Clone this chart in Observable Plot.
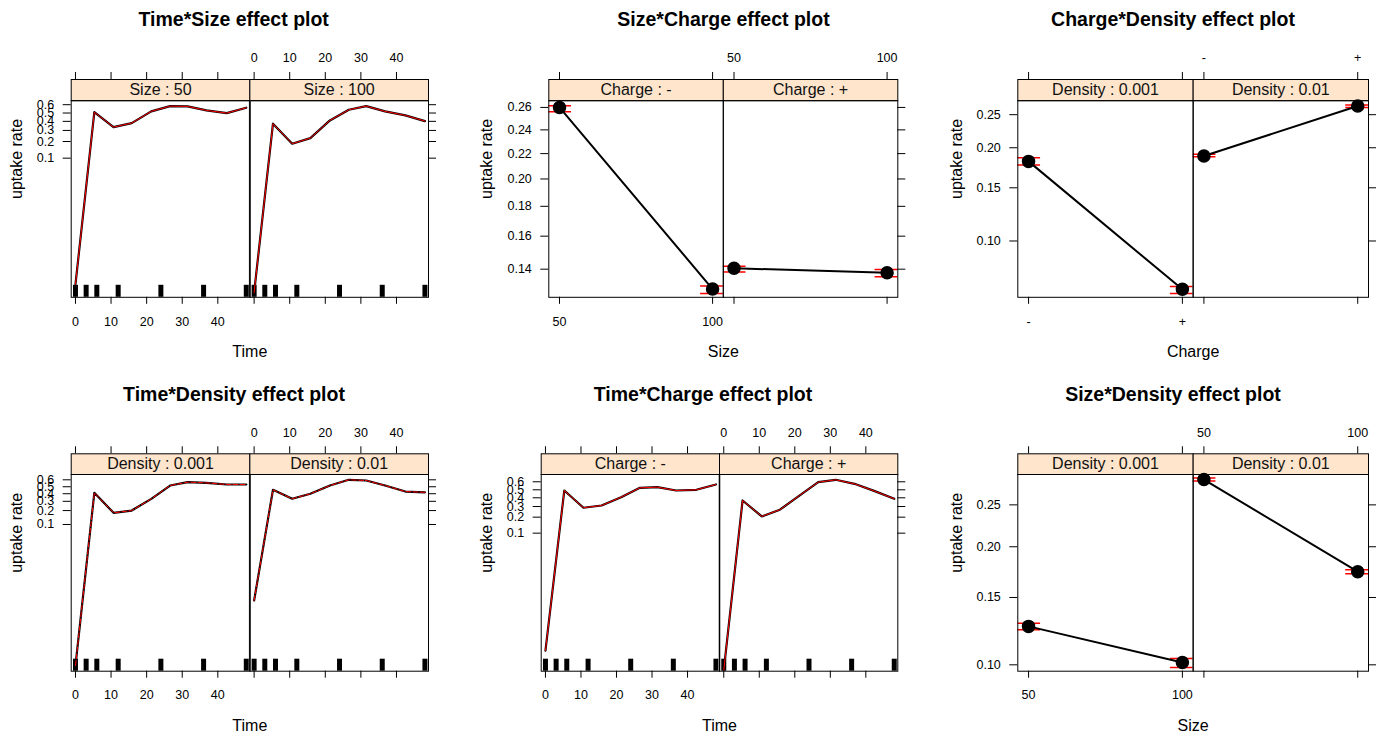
<!DOCTYPE html>
<html><head><meta charset="utf-8">
<script src="https://cdn.jsdelivr.net/npm/d3@7"></script>
<script src="https://cdn.jsdelivr.net/npm/@observablehq/plot@0.6"></script>
<style>
body{margin:0;background:#fff;font-family:"Liberation Sans",Arial,sans-serif;}
#wrap{position:relative;width:1386px;height:738px;overflow:hidden;background:#fff;}
.title{position:absolute;font-weight:bold;font-size:19.5px;white-space:nowrap;transform:translate(-50%,-50%);color:#000;line-height:1.15;}
.cell{position:absolute;}
</style></head><body><div id="wrap"></div>
<script>
// ---------- data ----------
const timePoints = [0, 5.3, 10.7, 15.8, 21.3, 26.6, 31.5, 36.8, 42.5, 48];
const rugTimes = [0, 3, 6, 12, 24, 36, 48];
const timeTicks = [0, 10, 20, 30, 40];
const timeTickLabels = ["0", "10", "20", "30", "40"];
const rateTicksTime = [0.1, 0.2, 0.3, 0.4, 0.5, 0.6];

const sizeFacets = ["Size : 50", "Size : 100"];
const timeSize50  = [0.00024, 0.511, 0.335, 0.380, 0.520, 0.583, 0.580, 0.532, 0.499, 0.564];
const timeSize100 = [0.00016, 0.373, 0.183, 0.228, 0.411, 0.540, 0.583, 0.520, 0.471, 0.403];

const densityFacets = ["Density : 0.001", "Density : 0.01"];
const timeDens001 = [0.00003, 0.413, 0.180, 0.200, 0.331, 0.518, 0.566, 0.557, 0.533, 0.533];
const timeDens01  = [0.00133, 0.456, 0.332, 0.399, 0.518, 0.600, 0.590, 0.518, 0.431, 0.420];

const chargeFacets = ["Charge : -", "Charge : +"];
const timeChargeMinus = [0.00029, 0.491, 0.287, 0.311, 0.408, 0.525, 0.533, 0.491, 0.500, 0.567];
const timeChargePlus  = [0.000106, 0.368, 0.206, 0.267, 0.428, 0.595, 0.624, 0.575, 0.483, 0.388];

const sizes = [50, 100];
const sizeTickLabels = ["50", "100"];
const chargeCodes = [1, 2];
const chargeLabels = ["-", "+"];

// Size*Charge
const scMinus   = [0.2600, 0.1290], scMinusLo = [0.2561, 0.1267], scMinusHi = [0.2615, 0.1307];
const scPlus    = [0.1405, 0.1380], scPlusLo  = [0.1384, 0.1357], scPlusHi  = [0.1417, 0.1398];
const rateTicksSC = [0.14, 0.16, 0.18, 0.20, 0.22, 0.24, 0.26];
// Charge*Density
const cd001 = [0.1817, 0.0680], cd001Lo = [0.1771, 0.0658], cd001Hi = [0.1863, 0.0696];
const cd01  = [0.1888, 0.2645], cd01Lo  = [0.1878, 0.2617], cd01Hi  = [0.1910, 0.2660];
const rateTicksCD = [0.10, 0.15, 0.20, 0.25];
// Size*Density
const sd001 = [0.1264, 0.1015], sd001Lo = [0.1239, 0.0984], sd001Hi = [0.1288, 0.1040];
const sd01  = [0.2840, 0.1740], sd01Lo  = [0.2820, 0.1720], sd01Hi  = [0.2860, 0.1760];
const rateTicksSD = [0.10, 0.15, 0.20, 0.25];

// ---------- helpers ----------
const logit = p => Math.log(p / (1 - p));
const FONT = '"Liberation Sans", Arial, sans-serif';
const wrap = document.getElementById("wrap");

function timeMarks(facets, series, spec) {
  const rows = facets.flatMap((f, k) => timePoints.map((t, i) => ({f, t, r: series[k][i]})));
  const rug = facets.flatMap(f => rugTimes.map(t => ({f, t})));
  const ih = spec.B - spec.T;
  return [
    Plot.ruleX(rug, {x: "t", fx: "f", insetTop: ih - 12, stroke: "black", strokeWidth: 5}),
    Plot.ruleX([{f: facets[1], x: spec.xDomain[0]}], {x: "x", fx: "f", stroke: "#777", strokeWidth: 2}),
    Plot.line(rows, {x: "t", y: d => logit(d.r), fx: "f", stroke: "black", strokeWidth: 2.2, clip: true}),
    Plot.line(rows, {x: "t", y: d => logit(d.r), fx: "f", stroke: "red", strokeWidth: 1, strokeDasharray: spec.dash || null, clip: true})
  ];
}

function pointMarks(facets, xs, vals, los, his) {
  const rows = facets.flatMap((f, k) => xs.map((x, i) => ({f, x, r: vals[k][i], lo: los[k][i], hi: his[k][i]})));
  return [
    Plot.ruleX(rows, {x: "x", y1: d => logit(d.lo), y2: d => logit(d.hi), fx: "f", stroke: "red", strokeWidth: 1.5}),
    Plot.ruleY(rows, {x1: "x", x2: "x", y: d => logit(d.lo), fx: "f", stroke: "red", strokeWidth: 1.5, insetLeft: -12, insetRight: -12, clip: true}),
    Plot.ruleY(rows, {x1: "x", x2: "x", y: d => logit(d.hi), fx: "f", stroke: "red", strokeWidth: 1.5, insetLeft: -12, insetRight: -12, clip: true}),
    Plot.line(rows, {x: "x", y: d => logit(d.r), fx: "f", stroke: "black", strokeWidth: 2}),
    Plot.dot(rows, {x: "x", y: d => logit(d.r), fx: "f", r: 6, fill: "black", stroke: "black"})
  ];
}

function effectPlot(spec) {
  const {region, L, R, T, B, stripH, facets, xDomain, yDomain, xTicks, xTickLabels, yTicks, yFmt} = spec;
  const mL = L - region.x, mR = region.x + region.w - R, mT = T - region.y, mB = region.y + region.h - B;
  const fw = (R - L) / 2, ih = B - T;
  const [fa, fb] = facets;
  const xt = xTicks.map((v, i) => ({v, lab: xTickLabels[i]}));
  const yt = yTicks.map(v => ({v}));
  const onBoth = arr => facets.flatMap(f => arr.map(d => ({...d, f})));
  const on = (arr, f) => arr.map(d => ({...d, f}));
  const marks = [
    Plot.frame({fill: "#ffe5cc", stroke: "black", insetTop: -stripH, insetBottom: ih}),
    Plot.text(facets.map(f => ({f})), {fx: "f", text: "f", frameAnchor: "top", dy: -stripH / 2, lineAnchor: "middle", fontSize: 16, fill: "#111"}),
    ...spec.dataMarks,
    Plot.frame({stroke: "black", strokeWidth: 1}),
    // x ticks
    Plot.ruleX(onBoth(xt), {x: "v", fx: "f", insetTop: ih, insetBottom: -7, stroke: "black"}),
    Plot.ruleX(onBoth(xt), {x: "v", fx: "f", insetTop: -(stripH + 7), insetBottom: ih + stripH, stroke: "black"}),
    Plot.text(on(xt, fa), {x: "v", fx: "f", text: "lab", frameAnchor: "bottom", dy: spec.botLabelY - B, lineAnchor: "middle", fontSize: 12.5}),
    Plot.text(on(xt, fb), {x: "v", fx: "f", text: "lab", frameAnchor: "top", dy: spec.topLabelY - T, lineAnchor: "middle", fontSize: 12.5}),
    // y ticks
    Plot.ruleY(on(yt, fa), {y: d => logit(d.v), fx: "f", insetLeft: -8, insetRight: fw, stroke: "black"}),
    Plot.ruleY(on(yt, fb), {y: d => logit(d.v), fx: "f", insetLeft: fw, insetRight: -8, stroke: "black"}),
    Plot.text(on(yt, fa), {y: d => logit(d.v), fx: "f", text: d => yFmt(d.v), frameAnchor: "left", dx: -17, textAnchor: "end", lineAnchor: "middle", fontSize: 12.5}),
    // axis titles
    Plot.text([{f: fa, t: spec.xLabel}], {fx: "f", text: "t", frameAnchor: "bottom", dx: fw / 2, dy: spec.xLabelY - B, lineAnchor: "middle", fontSize: 16}),
    Plot.text([{f: fa, t: "uptake rate"}], {fx: "f", text: "t", frameAnchor: "left", dx: spec.yLabelX - L, rotate: -90, lineAnchor: "middle", fontSize: 16})
  ];
  const svg = Plot.plot({
    width: region.w, height: region.h,
    marginLeft: mL, marginRight: mR, marginTop: mT, marginBottom: mB,
    style: {fontFamily: FONT, fontSize: "12.5px", background: "transparent", overflow: "visible", color: "black"},
    fx: {domain: facets, padding: 0, round: false, axis: null},
    x: {domain: xDomain, axis: null},
    y: {domain: yDomain, axis: null},
    marks
  });
  const cell = document.createElement("div");
  cell.className = "cell";
  cell.style.left = region.x + "px"; cell.style.top = region.y + "px";
  cell.appendChild(svg);
  wrap.appendChild(cell);
  const t = document.createElement("div");
  t.className = "title";
  t.textContent = spec.title;
  t.style.left = spec.titleX + "px"; t.style.top = spec.titleY + "px";
  wrap.appendChild(t);
}

const row1 = {T: 100.2, B: 296.8, stripH: 21.2, topLabelY: 58, botLabelY: 321, xLabelY: 351.7, titleY: 19.3};
const row2 = {T: 474, B: 670.7, stripH: 20.7, topLabelY: 432.3, botLabelY: 694.3, xLabelY: 725, titleY: 393.5};
const timeDomain = [-1.2, 49.0];
const sizeDomain = [46.5, 103.5];
const chargeDomain = [0.93, 2.07];
const f1 = v => v.toFixed(1), f2 = v => v.toFixed(2);

const specs = [
  {...row1, title: "Time*Size effect plot", titleX: 233.7, region: {x: 0, y: 36, w: 462, h: 334}, L: 70.7, R: 428, yLabelX: 16.3,
   facets: sizeFacets, xDomain: timeDomain, yDomain: [-8.97, 0.6], xTicks: timeTicks, xTickLabels: timeTickLabels, yTicks: rateTicksTime, yFmt: f1, xLabel: "Time",
   kind: "time", series: [timeSize50, timeSize100]},
  {...row1, title: "Size*Charge effect plot", titleX: 723.5, region: {x: 462, y: 36, w: 462, h: 334}, L: 548.3, R: 897.3, yLabelX: 486,
   facets: chargeFacets, xDomain: sizeDomain, yDomain: [-1.949, -1.014], xTicks: sizes, xTickLabels: sizeTickLabels, yTicks: rateTicksSC, yFmt: f2, xLabel: "Size",
   kind: "point", xs: sizes, vals: [scMinus, scPlus], los: [scMinusLo, scPlusLo], his: [scMinusHi, scPlusHi]},
  {...row1, title: "Charge*Density effect plot", titleX: 1173, region: {x: 924, y: 36, w: 462, h: 334}, L: 1017.3, R: 1368, yLabelX: 956,
   facets: densityFacets, xDomain: chargeDomain, yDomain: [-2.687, -0.977], xTicks: chargeCodes, xTickLabels: chargeLabels, yTicks: rateTicksCD, yFmt: f2, xLabel: "Charge",
   kind: "point", xs: chargeCodes, vals: [cd001, cd01], los: [cd001Lo, cd01Lo], his: [cd001Hi, cd01Hi]},
  {...row2, title: "Time*Density effect plot", titleX: 234, region: {x: 0, y: 410, w: 462, h: 328}, L: 70.7, R: 428, yLabelX: 16.3,
   facets: densityFacets, xDomain: timeDomain, yDomain: [-10.74, 0.714], xTicks: timeTicks, xTickLabels: timeTickLabels, yTicks: rateTicksTime, yFmt: f1, xLabel: "Time",
   kind: "time", series: [timeDens001, timeDens01], dash: "5,2"},
  {...row2, title: "Time*Charge effect plot", titleX: 703, region: {x: 462, y: 410, w: 462, h: 328}, L: 540.7, R: 897.3, yLabelX: 486,
   facets: chargeFacets, xDomain: timeDomain, yDomain: [-9.19, 0.775], xTicks: timeTicks, xTickLabels: timeTickLabels, yTicks: rateTicksTime, yFmt: f1, xLabel: "Time",
   kind: "time", series: [timeChargeMinus, timeChargePlus]},
  {...row2, title: "Size*Density effect plot", titleX: 1173, region: {x: 924, y: 410, w: 462, h: 328}, L: 1017.3, R: 1368, yLabelX: 956,
   facets: densityFacets, xDomain: sizeDomain, yDomain: [-2.241, -0.890], xTicks: sizes, xTickLabels: sizeTickLabels, yTicks: rateTicksSD, yFmt: f2, xLabel: "Size",
   kind: "point", xs: sizes, vals: [sd001, sd01], los: [sd001Lo, sd01Lo], his: [sd001Hi, sd01Hi]}
];

for (const s of specs) {
  s.dataMarks = s.kind === "time"
    ? timeMarks(s.facets, s.series, s)
    : pointMarks(s.facets, s.xs, s.vals, s.los, s.his);
  effectPlot(s);
}
</script></body></html>
